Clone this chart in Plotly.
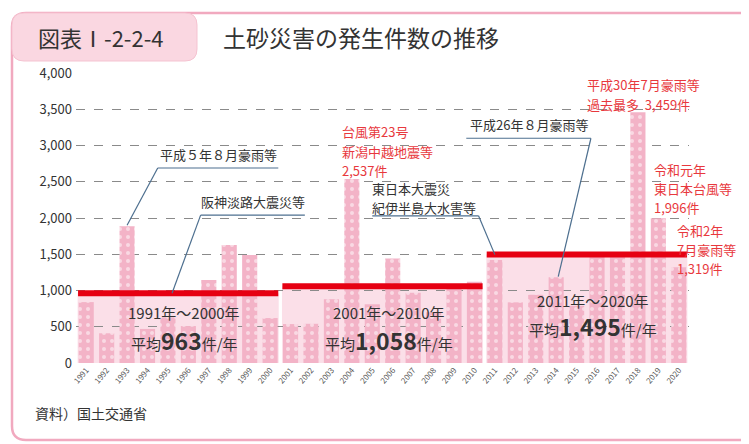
import plotly.graph_objects as go

years = list(range(1991, 2021))
counts = [840, 410, 1885, 470, 630, 510, 1145, 1628, 1490, 620,
          537, 541, 880, 2537, 810, 1440, 970, 700, 1058, 1120,
          1422, 837, 941, 1184, 788, 1492, 1514, 3459, 1996, 1319]
period_labels = ["1991年～2000年", "2001年～2010年", "2011年～2020年"]
period_start = [1991, 2001, 2011]
period_end = [2000, 2010, 2020]
averages = [963, 1058, 1495]
avg_text = ["963", "1,058", "1,495"]

FONT = "Noto Sans CJK JP"
PINK = "#f3b3c7"
RED = "#e60012"
LEAD = "#4d6f8f"
DARK = "#333333"
RED_TXT = "#e8383d"

# page has an 8px body margin, so the figure is drawn 8px lower/right.
# screen pixel -> paper helpers (plot area on screen: x 76..689, y 73..363)
def xp(px):
    return (px - 76) / 613.0

def yp(py):
    return (363 - py) / 290.0

def yd(py):
    return (363 - py) * 4000.0 / 290.0

fig = go.Figure()
fig.add_trace(go.Bar(
    x=years, y=counts, width=0.74,
    marker=dict(color=PINK, line=dict(width=0),
                pattern=dict(shape=".", fgcolor="white", size=8, solidity=0.2, fillmode="overlay")),
    hoverinfo="x+y", showlegend=False,
))

shapes = []
annotations = []

def rrect(x0, y0, x1, y1, r):
    X0, X1 = xp(x0), xp(x1)
    Y0, Y1 = yp(y0), yp(y1)
    rx, ry = r / 613.0, r / 290.0
    return (f"M {X0+rx},{Y0} L {X1-rx},{Y0} Q {X1},{Y0} {X1},{Y0-ry} "
            f"L {X1},{Y1+ry} Q {X1},{Y1} {X1-rx},{Y1} L {X0+rx},{Y1} "
            f"Q {X0},{Y1} {X0},{Y1+ry} L {X0},{Y0-ry} Q {X0},{Y0} {X0+rx},{Y0} Z")

shapes.append(dict(type="path", xref="paper", yref="paper", path=rrect(12, 13, 790, 440, 14),
                   line=dict(color="#f1a9bf", width=2.5), fillcolor="rgba(0,0,0,0)", layer="below"))
shapes.append(dict(type="path", xref="paper", yref="paper", path=rrect(12, 13, 197, 61, 12),
                   line=dict(color="#f5c3d1", width=1), fillcolor="#fad7e1", layer="below"))

# average shading + red lines
for s, e, a in zip(period_start, period_end, averages):
    shapes.append(dict(type="rect", xref="x", yref="y", x0=s - 0.42, x1=e + 0.42, y0=0, y1=a,
                       fillcolor="#fbdfe8", line=dict(width=0), layer="below"))
    shapes.append(dict(type="line", xref="x", yref="y", x0=s - 0.4, x1=e + 0.4, y0=a, y1=a,
                       line=dict(color=RED, width=6), layer="above"))

label_rows = [(312, 340), (312, 340), (300, 326)]
for lbl, s, e, t, (r1, r2) in zip(period_labels, period_start, period_end, avg_text, label_rows):
    cx = (s + e) / 2.0 + 0.3
    annotations.append(dict(x=cx, y=yd(r1), xref="x", yref="y", xanchor="center", yanchor="middle",
                            text=lbl, showarrow=False,
                            font=dict(family=FONT, size=15, color=DARK)))
    annotations.append(dict(x=cx, y=yd(r2), xref="x", yref="y", xanchor="center", yanchor="middle",
                            text="平均<b><span style='font-size:23px'>" + t + "</span></b>件/年",
                            showarrow=False,
                            font=dict(family=FONT, size=15, color=DARK)))

def underline_label(text, ux0, ux1, uy):
    shapes.append(dict(type="line", xref="x", yref="y", x0=ux0, x1=ux1, y0=uy, y1=uy,
                       line=dict(color=LEAD, width=1.2)))
    annotations.append(dict(x=(ux0 + ux1) / 2, y=uy + 25, xref="x", yref="y", xanchor="center",
                            yanchor="bottom", text=text, showarrow=False,
                            font=dict(family=FONT, size=13, color=DARK)))

def leader(x0, y0, x1, y1):
    shapes.append(dict(type="line", xref="x", yref="y", x0=x0, y0=y0, x1=x1, y1=y1,
                       line=dict(color=LEAD, width=1.2)))

def rows(px_x, px_rows, lines, color):
    for py, t in zip(px_rows, lines):
        annotations.append(dict(x=xp(px_x), y=yp(py), xref="paper", yref="paper",
                                xanchor="left", yanchor="middle", text=t, showarrow=False,
                                borderpad=0, font=dict(family=FONT, size=13, color=color)))

underline_label("平成５年８月豪雨等", 1994.5, 2000.4, 2690)
leader(1994.5, 2690, 1993, 1900)
underline_label("阪神淡路大震災等", 1996.6, 2001.7, 2040)
leader(1996.6, 2040, 1995.2, 963)
underline_label("平成26年８月豪雨等", 2009.6, 2015.7, 3100)
leader(2015.7, 3100, 2014.1, 1190)
# 東日本大震災 two-line label
shapes.append(dict(type="line", xref="x", yref="y", x0=2005.0, x1=2010.2, y0=2030, y1=2030,
                   line=dict(color=LEAD, width=1.2)))
leader(2010.2, 2030, 2011.0, 1495)
rows(371, [188, 207], ["東日本大震災", "紀伊半島大水害等"], DARK)

# red labels
rows(341, [132, 151, 170], ["台風第23号", "新潟中越地震等", "2,537件"], RED_TXT)
rows(586, [85, 104], ["平成30年7月豪雨等", "過去最多  3,459件"], RED_TXT)
rows(653, [169, 188, 207], ["令和元年", "東日本台風等", "1,996件"], RED_TXT)
rows(676, [230, 249, 268], ["令和2年", "7月豪雨等", "1,319件"], RED_TXT)

# title and source
annotations.append(dict(x=xp(36), y=yp(37), xref="paper", yref="paper", xanchor="left", yanchor="middle",
                        text="図表Ⅰ-2-2-4", showarrow=False,
                        font=dict(family=FONT, size=22, color=DARK)))
annotations.append(dict(x=xp(221), y=yp(37), xref="paper", yref="paper", xanchor="left", yanchor="middle",
                        text="土砂災害の発生件数の推移", showarrow=False,
                        font=dict(family=FONT, size=23, color=DARK)))
annotations.append(dict(x=xp(33), y=yp(413), xref="paper", yref="paper", xanchor="left", yanchor="middle",
                        text="資料）国土交通省", showarrow=False,
                        font=dict(family=FONT, size=14, color=DARK)))

fig.update_layout(
    width=741, height=436,
    margin=dict(l=68, r=60, t=65, b=81, autoexpand=False),
    paper_bgcolor="white", plot_bgcolor="white",
    font=dict(family=FONT, color=DARK),
    shapes=shapes, annotations=annotations,
    xaxis=dict(range=[1990.5, 2020.5], tickmode="array", tickvals=years,
               ticktext=[str(y) for y in years], tickangle=-50, automargin=False,
               tickfont=dict(size=8, color="#555555"), showgrid=False, zeroline=False,
               showline=False, ticks=""),
    yaxis=dict(range=[0, 4000], tickmode="array", tickvals=list(range(0, 4001, 500)),
               ticktext=[f"{v:,}" for v in range(0, 4001, 500)], automargin=False,
               tickfont=dict(size=13, color=DARK), showgrid=True, gridcolor="#8a8a8a",
               griddash="dash", gridwidth=1, zeroline=False, showline=False, ticks="",
               ticklabelstandoff=3),
)

fig.write_html("out.html")
